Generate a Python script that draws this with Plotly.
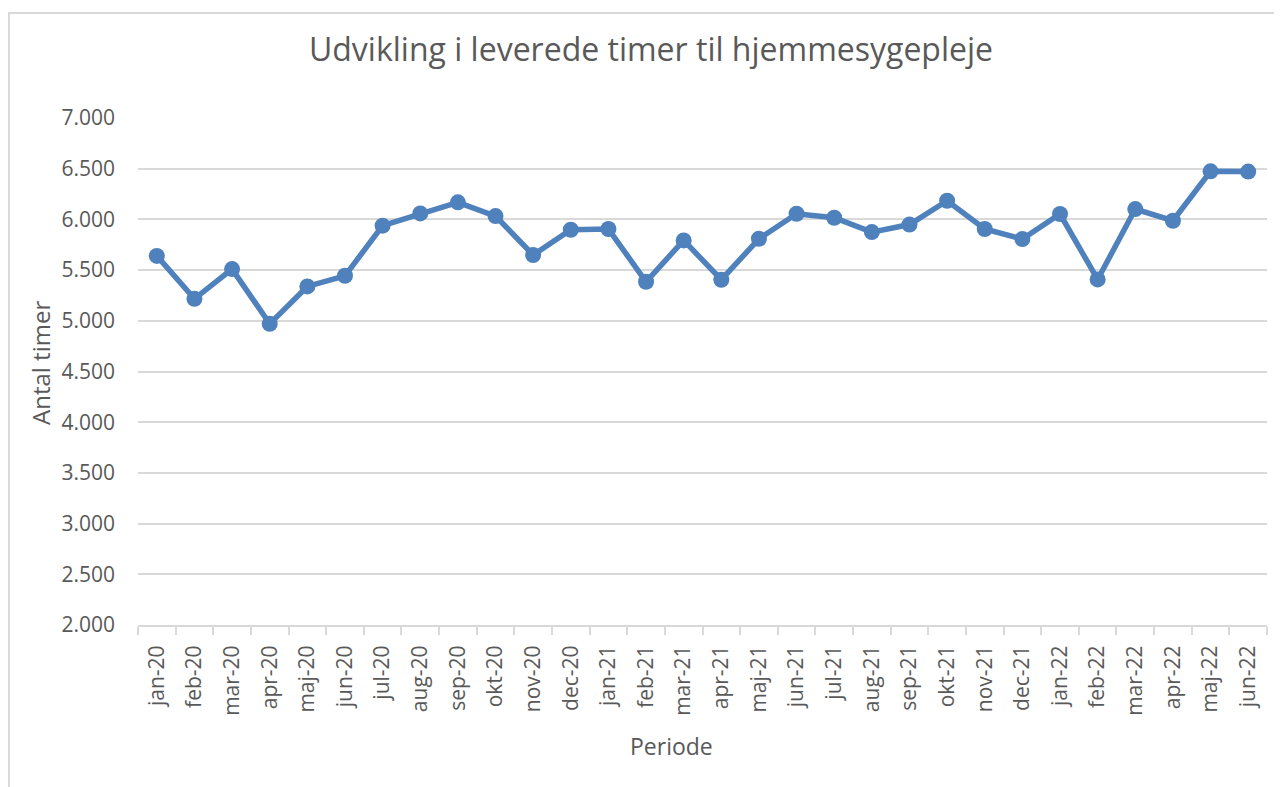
import plotly.graph_objects as go

perioder = [
    "jan-20", "feb-20", "mar-20", "apr-20", "maj-20", "jun-20",
    "jul-20", "aug-20", "sep-20", "okt-20", "nov-20", "dec-20",
    "jan-21", "feb-21", "mar-21", "apr-21", "maj-21", "jun-21",
    "jul-21", "aug-21", "sep-21", "okt-21", "nov-21", "dec-21",
    "jan-22", "feb-22", "mar-22", "apr-22", "maj-22", "jun-22",
]
timer = [
    5640, 5217, 5510, 4970, 5339, 5444,
    5938, 6059, 6168, 6033, 5649, 5898,
    5905, 5385, 5793, 5405, 5809, 6056,
    6016, 5875, 5949, 6184, 5905, 5806,
    6053, 5408, 6102, 5987, 6474, 6472,
]

# page is offset by the body margin (8px), so work in page pixels and convert
OFF = 8
W, H = 1282 - OFF, 787 - OFF
L, R, T, B = 138 - OFF, 15, 118 - OFF, 162
pw, ph = W - L - R, H - T - B

def px(x):
    return (x - OFF - L) / pw

def py(y):
    return (H - B - (y - OFF)) / ph

blue = "#4F81BD"
grid = "#D9D9D9"
txt = "#595959"
font = "Open Sans"

fig = go.Figure()
fig.add_trace(go.Scatter(
    x=perioder, y=timer,
    mode="lines+markers",
    line=dict(color=blue, width=5.5),
    marker=dict(color=blue, size=16),
    showlegend=False,
    hoverinfo="x+y",
))

fig.update_layout(
    width=W, height=H,
    margin=dict(l=L, r=R, t=T, b=B),
    paper_bgcolor="white",
    plot_bgcolor="white",
    separators=",.",
    font=dict(family=font, color=txt, size=21),
    title=dict(
        text="Udvikling i leverede timer til hjemmesygepleje",
        font=dict(size=32, color=txt, family=font),
        x=(651 - OFF) / W, xref="container", xanchor="center",
        y=1 - (50 - OFF) / H, yref="container", yanchor="middle",
    ),
    xaxis=dict(
        type="category",
        tickangle=-90,
        ticks="outside", tickson="boundaries", ticklen=8,
        tickcolor=grid, tickwidth=2,
        showline=True, linecolor=grid, linewidth=2,
        showgrid=False,
        ticklabelstandoff=10,
        tickfont=dict(size=21, color=txt),
        range=[-0.5, len(perioder) - 0.5],
    ),
    yaxis=dict(
        range=[2000, 7000],
        tick0=2000, dtick=500,
        tickformat=",d",
        showgrid=True, gridcolor=grid, gridwidth=2,
        zeroline=False, showline=False,
        ticks="",
        ticklabelstandoff=22,
        tickfont=dict(size=21, color=txt),
    ),
    shapes=[dict(
        type="rect", xref="paper", yref="paper",
        x0=px(9), x1=px(1300), y0=py(800), y1=py(13),
        line=dict(color=grid, width=2), fillcolor="rgba(0,0,0,0)",
        layer="below",
    )],
    annotations=[
        dict(text="Antal timer", xref="paper", yref="paper",
             x=px(40), y=py(363), textangle=-90, showarrow=False,
             xanchor="center", yanchor="middle",
             font=dict(size=24, color=txt, family=font)),
        dict(text="Periode", xref="paper", yref="paper",
             x=px(671), y=py(746), showarrow=False,
             xanchor="center", yanchor="middle",
             font=dict(size=23, color=txt, family=font)),
    ],
)

fig.write_html("out.html")
